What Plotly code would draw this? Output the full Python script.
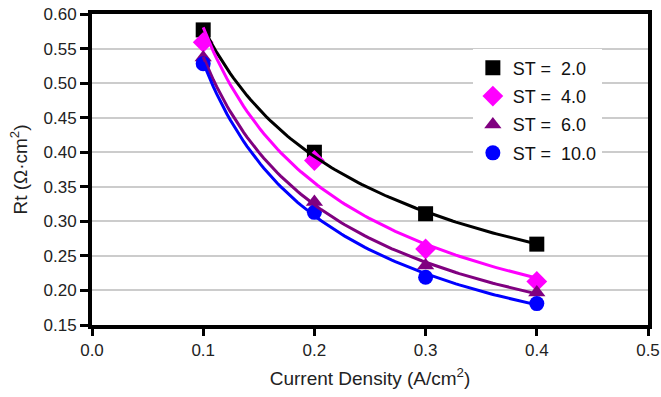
import numpy as np
import plotly.graph_objects as go

current_density = [0.1, 0.2, 0.3, 0.4]
rt_st2 = [0.577, 0.400, 0.311, 0.267]
rt_st4 = [0.559, 0.388, 0.260, 0.213]
rt_st6 = [0.537, 0.328, 0.236, 0.197]
rt_st10 = [0.528, 0.313, 0.219, 0.181]

series = [
    ("ST =  2.0", rt_st2, "#000000", "square", 15),
    ("ST =  4.0", rt_st4, "#ff00ff", "diamond", 16),
    ("ST =  6.0", rt_st6, "#800080", "triangle-up", 15),
    ("ST =  10.0", rt_st10, "#0000ff", "circle", 15),
]

fig = go.Figure()
xs = np.array(current_density)
xfit = np.linspace(0.1, 0.4, 100)

for i, (name, ys, color, sym, size) in enumerate(series):
    fig.add_trace(go.Scatter(x=current_density, y=ys, mode="markers", name=name,
                             legendgroup=f"g{i}",
                             marker=dict(color=color, symbol=sym, size=size,
                                         line=dict(width=0))))
# power-law trendlines drawn over the markers
for name, ys, color, sym, size in series:
    b, loga = np.polyfit(np.log(xs), np.log(np.array(ys)), 1)
    yfit = np.exp(loga) * xfit ** b
    fig.add_trace(go.Scatter(x=xfit, y=yfit, mode="lines",
                             line=dict(color=color, width=3),
                             showlegend=False, hoverinfo="skip"))

fig.update_layout(
    width=661, height=397,
    margin=dict(l=92, r=13, t=14, b=72),
    paper_bgcolor="white", plot_bgcolor="white",
    font=dict(family="Liberation Sans, Arial, sans-serif", size=17, color="#222"),
    legend=dict(x=0.685, y=0.886, xanchor="left", yanchor="top",
                bgcolor="white", borderwidth=0, tracegroupgap=2,
                font=dict(size=18, color="#111"), itemwidth=30),
    xaxis=dict(range=[0, 0.5], dtick=0.1, tickformat=".1f", automargin=False,
               showgrid=False, zeroline=False,
               showline=True, linecolor="black", linewidth=4, mirror=True,
               ticks="outside", ticklen=7, tickwidth=3, tickcolor="black",
               title=dict(text="Current Density (A/cm<sup>2</sup>)", font=dict(size=19), standoff=13)),
    yaxis=dict(range=[0.15, 0.60], dtick=0.05, tickformat=".2f", automargin=False,
               showgrid=True, gridcolor="#cccccc", gridwidth=1.5, zeroline=False,
               showline=True, linecolor="black", linewidth=4, mirror=True,
               ticks="outside", ticklen=8, tickwidth=3, tickcolor="black",
               title=dict(text="Rt (Ω·cm<sup>2</sup>)", font=dict(size=19), standoff=12)),
)

fig.write_html("out.html")
